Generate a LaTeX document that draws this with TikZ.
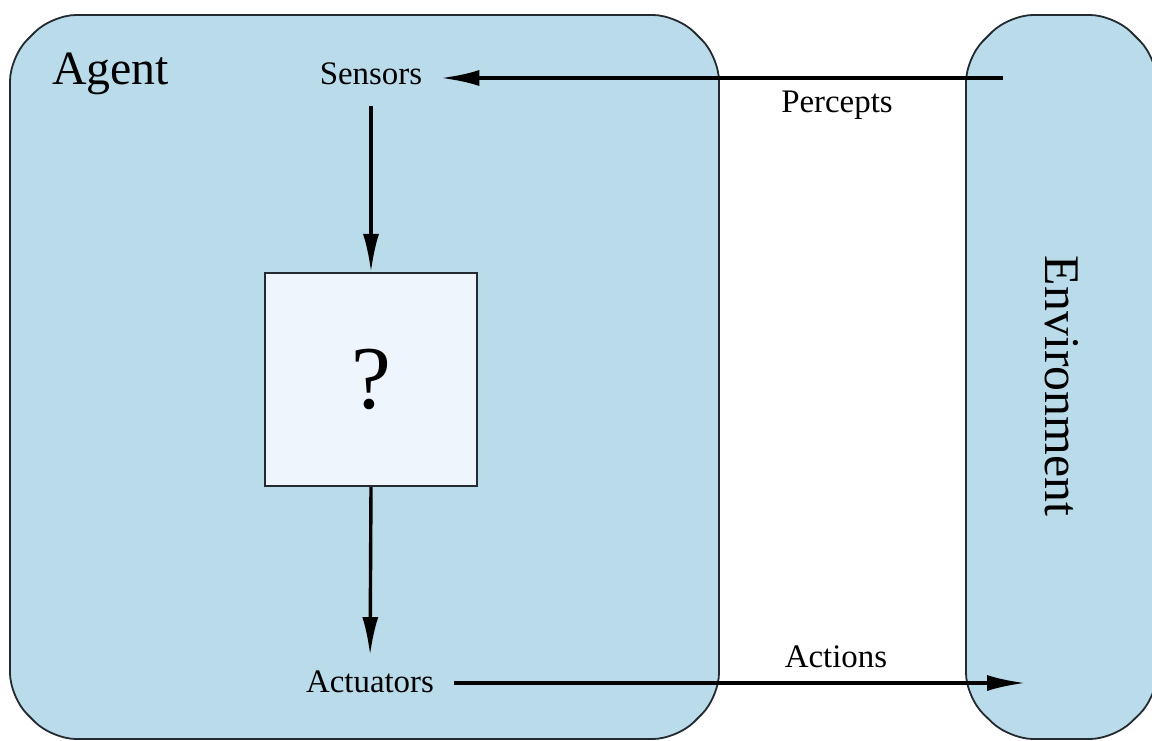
\documentclass[tikz,border=0pt]{standalone}
\usepackage{fontspec}
\setmainfont{Liberation Serif}
\usetikzlibrary{arrows.meta}
\definecolor{agentblue}{RGB}{186,220,234}
\definecolor{boxfill}{RGB}{238,245,252}
\definecolor{edgecol}{RGB}{35,42,48}
\begin{document}
\begin{tikzpicture}[x=1bp,y=-1bp,
  region/.style={draw=edgecol, line width=1.8bp, fill=agentblue, rounded corners=24bp},
  qbox/.style={draw=edgecol, line width=2bp, fill=boxfill, minimum width=212bp, minimum height=213bp, inner sep=0},
  lbl/.style={font=\fontsize{33}{38}\selectfont, inner sep=0},
  flow/.style={-{Latex[length=38bp,width=16bp]}, line width=3.4bp, draw=black}
]
\useasboundingbox (0,0) rectangle (1152,741);
\fill[white] (0,0) rectangle (1152,741);
% regions (chamfered with rounded ends)
\draw[region] (52,15) -- (677,15) -- (719,57) -- (719,697) -- (677,739)
  -- (52,739) -- (10,697) -- (10,57) -- cycle;
\draw[region] (1009,15) -- (1114,15) -- (1157,58) -- (1157,697) -- (1114,739)
  -- (1009,739) -- (966,697) -- (966,58) -- cycle;
% labels
\node[font=\fontsize{48}{56}\selectfont, anchor=base west, inner sep=0] (agentlbl) at (52,85) {Agent};
\node[font=\fontsize{50}{60}\selectfont, rotate=-90, inner sep=0] (envlbl) at (1062,386) {Environment};
\node[lbl, anchor=base] (sens) at (371,85) {Sensors};
\node[lbl, anchor=base] (act) at (370,692) {Actuators};
\node[lbl, anchor=base] (perc) at (837,113) {Percepts};
\node[lbl, anchor=base] (acts) at (836,667) {Actions};
\node[qbox] (q) at (371,379.5) {\fontsize{90}{100}\selectfont ?};
% free ends
\coordinate (pin) at (1003,78);
\coordinate (aout) at (1025,683);
% connectors
\draw[flow, shorten >=19bp] (pin) -- (pin -| sens.east);
\draw[flow, shorten <=20bp] (sens.south) -- (q.north);
\draw[flow, shorten >=15bp] (q.south) -- (act.north);
\draw[flow, shorten <=20bp] (act.east |- aout) -- (aout);
\end{tikzpicture}
\end{document}
